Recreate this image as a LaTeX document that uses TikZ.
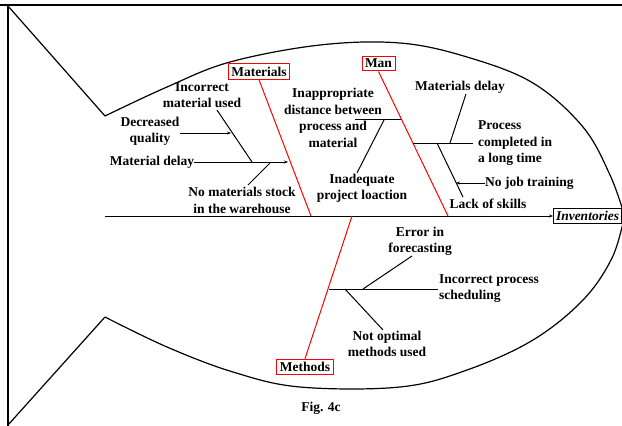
\documentclass[tikz,border=0pt]{standalone}
\usepackage{fontspec}
\setmainfont{Liberation Serif}
\usetikzlibrary{arrows.meta}

\begin{document}
\begin{tikzpicture}[x=1pt,y=-1pt,
  lbl/.style={font=\fontsize{13.5}{16.5}\selectfont\bfseries, inner sep=0pt, align=center},
  lbll/.style={lbl, align=left, anchor=west},
  bone/.style={draw=black, line width=1pt},
  rib/.style={draw=red, line width=1pt},
  cat/.style={lbl, draw=red, line width=1pt, inner xsep=3pt, inner ysep=3pt, fill=white},
  tip/.style={-{Stealth[length=4pt,width=3pt]}},
]
\useasboundingbox (0,0) rectangle (622,426);

% page frame
\draw[line width=2.6pt, black!35] (0,5) -- (622,5);
\draw[line width=1.2pt] (0,5) -- (622,5);
\draw[line width=1.4pt] (8,5) -- (8,426);

% tail
\coordinate (tu) at (105,116);
\coordinate (tl) at (105,317);
\draw[bone, line width=1.2pt] (8,6) -- (tu);
\draw[bone, line width=1.2pt] (tl) -- (8,425);

% body outline
\draw[bone, line width=1.2pt] plot[smooth, tension=0.6] coordinates {(105,116) (167,87) (230,62) (320,45) (400,43) (467,57) (533,83) (583,127) (610,175) (624,214)};
\draw[bone, line width=1.2pt] plot[smooth, tension=0.6] coordinates {(105,317) (167,347) (233,372) (300,387) (400,387) (467,370) (533,340) (583,300) (612,258) (624,218)};

% effect box and spine
\node[lbl, font=\fontsize{13.5}{16.5}\selectfont\bfseries\itshape, draw, line width=1pt, fill=white, inner xsep=2.5pt, inner ysep=3pt, anchor=west] (inv) at (553,216) {Inventories};
\coordinate (tailpt) at (105,216);
\draw[bone, tip] (tailpt) -- (inv.west);

% category boxes
\node[cat] (mat) at (259,71.5) {Materials};
\node[cat] (man) at (378.5,63.5) {Man};
\node[cat] (meth) at (305,367) {Methods};

\coordinate (matj) at (311,216);
\coordinate (manj) at (448,216);
\coordinate (methj) at (352,216);
\draw[rib] (mat.south) -- (matj);
\draw[rib] (man.south) -- (manj);
\draw[rib] (meth.north) -- (methj);

% Materials causes
\node[lbl] (md) at (152,162) {Material delay};
\coordinate (mdend) at (288,162);
\draw[bone, tip] (md.east) -- (mdend);
\node[lbl] (imu) at (202,95) {Incorrect\\material used};
\coordinate (imua) at (217,110);
\coordinate (imub) at (252,162);
\draw[bone] (imua) -- (imub);
\node[lbl] (dq) at (150,131.5) {Decreased\\quality};
\coordinate (dqend) at (231,133);
\draw[bone, tip] (180,133) -- (dqend);
\node[lbl] (nms) at (242,200.5) {No materials stock\\in the warehouse};
\coordinate (nmsa) at (248,185);
\coordinate (nmsb) at (270,163);
\draw[bone] (nmsa) -- (nmsb);

% Man causes
\node[lbl] (iad) at (333,118) {Inappropriate\\distance between\\process and\\material};
\coordinate (iada) at (355,119);
\coordinate (iadb) at (401,119);
\draw[bone] (iada) -- (iadb);
\node[lbl] (ipl) at (362,188.5) {Inadequate\\project loaction};
\coordinate (ipla) at (357,173);
\coordinate (iplb) at (384,120);
\draw[bone] (ipla) -- (iplb);
\node[lbl] (mdl) at (460,87) {Materials delay};
\coordinate (mdla) at (466,94);
\coordinate (mdlb) at (450,143);
\draw[bone] (mdla) -- (mdlb);
\coordinate (pca) at (413,143);
\coordinate (pcb) at (473,143);
\draw[bone] (pca) -- (pcb);
\node[lbll] (pc) at (478,143.5) {Process\\completed in\\a long time};
\coordinate (lsa) at (437,143);
\coordinate (lsb) at (463,197);
\draw[bone] (lsa) -- (lsb);
\node[lbl] (ls) at (488,203.5) {Lack of skills};
\node[lbll] (njt) at (485,183) {No job training};
\coordinate (njtend) at (456,183);
\draw[bone, tip] (njt.west) -- (njtend);

% Methods causes
\coordinate (mta) at (329,289);
\coordinate (mtb) at (438,289);
\draw[bone] (mta) -- (mtb);
\node[lbll] (ips) at (439,288.5) {Incorrect process\\scheduling};
\node[lbl] (eif) at (420,241.5) {Error in\\forecasting};
\coordinate (eifa) at (412,256);
\coordinate (eifb) at (363,289);
\draw[bone] (eifa) -- (eifb);
\node[lbl] (nom) at (387,344) {Not optimal\\methods used};
\coordinate (noma) at (345,289);
\coordinate (nomb) at (383,330);
\draw[bone] (noma) -- (nomb);

% caption
\node[lbl] (cap) at (321,408) {Fig. 4c};
\end{tikzpicture}
\end{document}
